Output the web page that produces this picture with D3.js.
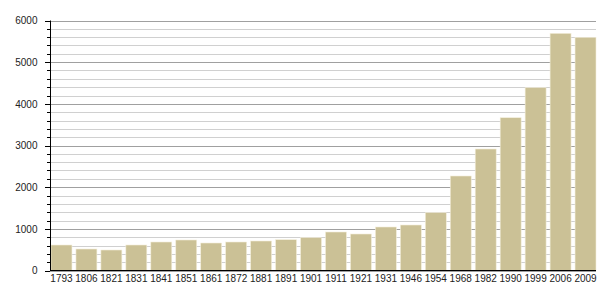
<!DOCTYPE html>
<html><head><meta charset="utf-8">
<script src="https://cdn.jsdelivr.net/npm/d3@7"></script>
<style>body{margin:0;background:#fff}svg{display:block}text{font-family:"Liberation Sans",Arial,sans-serif;font-size:10px;fill:#222}</style>
</head><body><svg id="c" width="605" height="300"></svg>
<script>
const years = ["1793","1806","1821","1831","1841","1851","1861","1872","1881","1891","1901","1911","1921","1931","1946","1954","1968","1982","1990","1999","2006","2009"];
const population = [612,516,492,612,684,732,660,684,708,739,787,924,876,1044,1092,1387,2268,2916,3667,4387,5692,5596];
const yTicks = [0,1000,2000,3000,4000,5000,6000];

const svg = d3.select("#c");
const x = d3.scaleBand().domain(years).range([50.5,596.5]).paddingInner(0.16).paddingOuter(0.02);
const y = d3.scaleLinear().domain([0,6000]).range([270.5,20.5]);
const minor = d3.range(0,6001,200);

svg.append("g").selectAll("line").data(minor).join("line")
  .attr("x1",50).attr("x2",596).attr("y1",d=>Math.round(y(d))+0.5).attr("y2",d=>Math.round(y(d))+0.5)
  .attr("stroke",d=>d%1000===0?"#a0a0a0":"#d0d0d0").attr("stroke-width",1);

svg.append("g").selectAll("rect").data(years).join("rect")
  .attr("x",d=>x(d)).attr("width",x.bandwidth())
  .attr("y",(d,i)=>y(population[i])).attr("height",(d,i)=>y(0)-y(population[i]))
  .attr("fill","#cbc196").attr("stroke","#f3eedb").attr("stroke-width",0.6);

svg.append("g").selectAll("line").data(minor).join("line")
  .attr("x1",d=>d%1000===0?45:47).attr("x2",50).attr("y1",d=>Math.round(y(d))+0.5).attr("y2",d=>Math.round(y(d))+0.5)
  .attr("stroke","#000");

const yAxis = svg.append("g").attr("transform","translate(50.5,0)")
  .call(d3.axisLeft(y).tickValues(yTicks).tickFormat(d3.format("d")).tickSize(0).tickPadding(13));
yAxis.select(".domain").attr("stroke","#000").attr("d","M0,20.5V271");
yAxis.selectAll("text").style("font-family","Liberation Sans, Arial, sans-serif").style("font-size","10px").attr("fill","#222");

const xAxis = svg.append("g").attr("transform","translate(0,270.5)")
  .call(d3.axisBottom(x).tickSize(0).tickPadding(4));
xAxis.select(".domain").attr("stroke","#000").attr("d","M50,0H596");
xAxis.selectAll("text").style("font-family","Liberation Sans, Arial, sans-serif").style("font-size","10px").attr("fill","#222");
</script></body></html>
